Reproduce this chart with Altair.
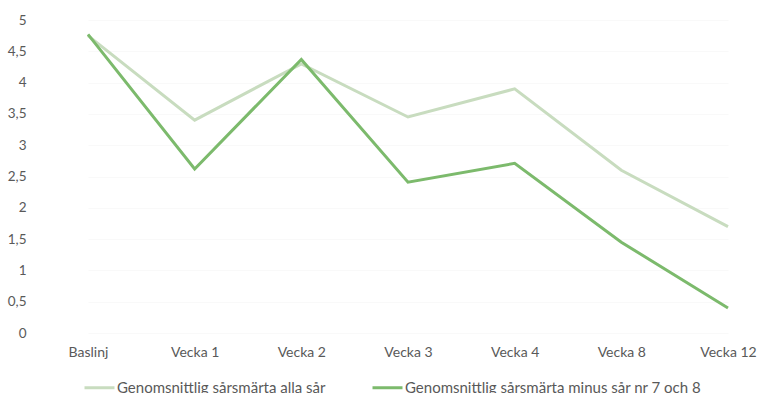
import altair as alt
import pandas as pd

categories = ["Baslinj", "Vecka 1", "Vecka 2", "Vecka 3", "Vecka 4", "Vecka 8", "Vecka 12"]
series_all = [4.75, 3.4, 4.3, 3.45, 3.9, 2.6, 1.7]
series_minus = [4.77, 2.62, 4.37, 2.41, 2.71, 1.45, 0.4]
name_all = "Genomsnittlig sårsmärta alla sår"
name_minus = "Genomsnittlig sårsmärta minus sår nr 7 och 8"

rows = []
for c, v in zip(categories, series_all):
    rows.append({"Kategori": c, "Värde": v, "Serie": name_all})
for c, v in zip(categories, series_minus):
    rows.append({"Kategori": c, "Värde": v, "Serie": name_minus})
df = pd.DataFrame(rows)

font = "Lato"
chart = alt.Chart(df).mark_line(strokeWidth=3).encode(
    x=alt.X("Kategori:N", sort=categories, title=None,
            scale=alt.Scale(type="point", range=[48, 688], padding=0),
            axis=alt.Axis(labelAngle=0, domain=False, ticks=False, grid=False,
                          labelPadding=12, labelFontSize=14, labelColor="#595959",
                          labelFont=font)),
    y=alt.Y("Värde:Q", title=None,
            scale=alt.Scale(domain=[0, 5], nice=False),
            axis=alt.Axis(values=[0, 0.5, 1, 1.5, 2, 2.5, 3, 3.5, 4, 4.5, 5],
                          labelExpr="replace(format(datum.value, ''), '.', ',')",
                          domain=False, ticks=False, grid=True, gridColor="#f9f9f9",
                          labelPadding=14, labelFontSize=13.5, labelColor="#595959",
                          labelFont=font)),
    color=alt.Color("Serie:N", sort=[name_all, name_minus],
                    scale=alt.Scale(domain=[name_all, name_minus],
                                    range=["#c8dcbf", "#7cba6c"]),
                    legend=alt.Legend(title=None, orient="none", direction="horizontal",
                                      legendX=43, legendY=351, symbolType="stroke",
                                      symbolSize=900, symbolStrokeWidth=3,
                                      labelFontSize=15, labelColor="#595959",
                                      labelFont=font, labelLimit=400,
                                      columnPadding=40, labelOffset=1)),
).properties(
    width=721, height=313,
    padding={"left": 40, "top": 20, "right": 0, "bottom": 60},
    autosize=alt.AutoSizeParams(type="none"),
).configure_view(stroke=None)

chart.save("out.html", embed_options={"renderer": "svg", "actions": False})
